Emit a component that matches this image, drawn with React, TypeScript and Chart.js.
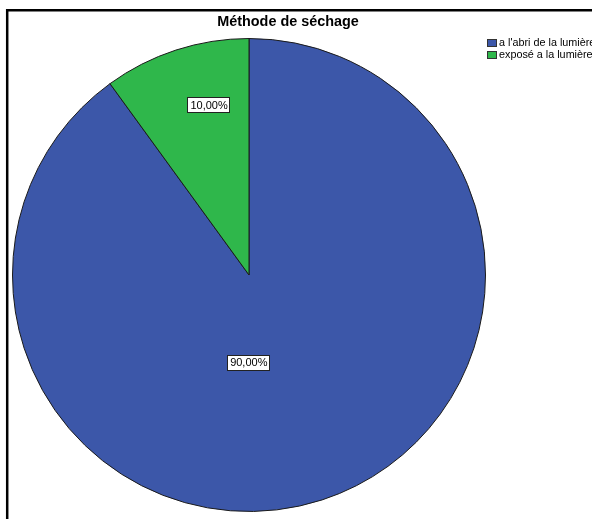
import React, { useEffect, useRef } from "react";
import { Chart, registerables } from "chart.js";

Chart.register(...registerables);

const chartTitle = "Méthode de séchage";
const categories = ["a l'abri de la lumière", "exposé a la lumière"];
const percentages = [90, 10];
const sliceColors = ["#3C57A9", "#2FB74B"];

const fmt = (v: number) => v.toFixed(2).replace(".", ",") + "%";

const decorPlugin = {
  id: "decor",
  afterDraw(chart: any, _args: any, opts: any) {
    const ctx = chart.ctx;
    ctx.save();
    // frame
    ctx.strokeStyle = "#000";
    ctx.lineWidth = 2.5;
    ctx.beginPath();
    ctx.moveTo(7.2, chart.height);
    ctx.lineTo(7.2, 10.2);
    ctx.lineTo(chart.width, 10.2);
    ctx.stroke();
    // title
    ctx.fillStyle = "#000";
    ctx.font = "bold 14.4px 'Liberation Sans', Arial, sans-serif";
    ctx.textAlign = "center";
    ctx.textBaseline = "middle";
    ctx.fillText(chartTitle, 288, 22);
    // legend
    ctx.font = "10.8px 'Liberation Sans', Arial, sans-serif";
    ctx.textAlign = "left";
    categories.forEach((c, i) => {
      const y = 39 + i * 12;
      ctx.fillStyle = sliceColors[i];
      ctx.fillRect(487, y, 10, 8);
      ctx.strokeStyle = "#333";
      ctx.lineWidth = 1;
      ctx.strokeRect(487.5, y + 0.5, 9, 7);
      ctx.fillStyle = "#000";
      ctx.fillText(c, 499, y + 4.5);
    });
    // value labels
    const meta = chart.getDatasetMeta(0);
    const place = opts.place || [];
    meta.data.forEach((arc: any, i: number) => {
      const p = place[i] || { a: 0.5, r: 0.6 };
      const ang = arc.startAngle + (arc.endAngle - arc.startAngle) * p.a;
      const rr = arc.outerRadius * p.r;
      const x = arc.x + Math.cos(ang) * rr;
      const y = arc.y + Math.sin(ang) * rr;
      const txt = fmt(percentages[i]);
      ctx.font = "11px 'Liberation Sans', Arial, sans-serif";
      const w = ctx.measureText(txt).width + 6;
      const h = 16;
      ctx.fillStyle = "#fff";
      ctx.fillRect(Math.round(x - w / 2), Math.round(y - h / 2), Math.round(w), h);
      ctx.strokeStyle = "#222";
      ctx.lineWidth = 1;
      ctx.strokeRect(Math.round(x - w / 2) + 0.5, Math.round(y - h / 2) + 0.5, Math.round(w) - 1, h - 1);
      ctx.fillStyle = "#000";
      ctx.textAlign = "center";
      ctx.textBaseline = "middle";
      ctx.fillText(txt, x, y + 0.5);
    });
    ctx.restore();
  },
};

export default function App() {
  const ref = useRef<HTMLCanvasElement>(null);
  useEffect(() => {
    if (!ref.current) return;
    const chart = new Chart(ref.current, {
      type: "pie",
      data: {
        labels: categories,
        datasets: [
          {
            data: percentages,
            backgroundColor: sliceColors,
            borderColor: "#1a1a1a",
            borderWidth: 1,
          },
        ],
      },
      options: {
        animation: false,
        responsive: false,
        layout: { padding: { left: 12, right: 106, top: 36, bottom: 5 } },
        plugins: {
          legend: { display: false },
          title: { display: false },
          tooltip: { enabled: false },
          decor: { place: [{ a: 0.556, r: 0.37 }, { a: 0.633, r: 0.738 }] },
        } as any,
      },
      plugins: [decorPlugin],
    });
    return () => chart.destroy();
  }, []);
  return (
    <div style={{ position: "fixed", left: 0, top: 0, width: 592, height: 519, overflow: "hidden", background: "#fff" }}>
      <canvas ref={ref} width={592} height={519} style={{ display: "block" }} />
    </div>
  );
}
